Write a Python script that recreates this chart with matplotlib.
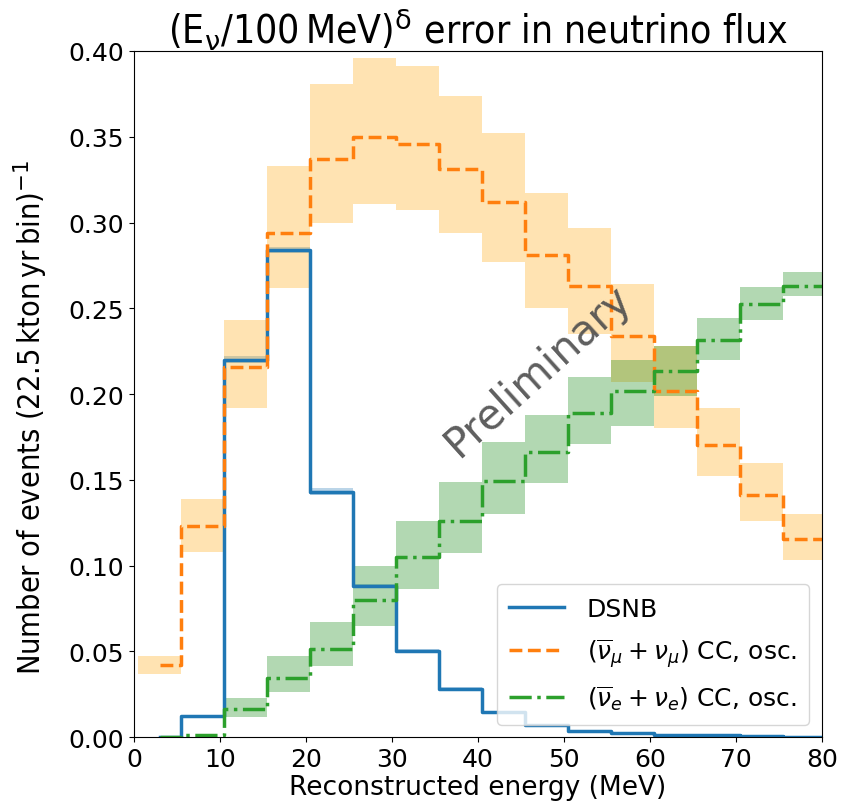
import numpy as np
import matplotlib
matplotlib.use("Agg")
import matplotlib.pyplot as plt

# bin layout: 5 MeV bins, first drawn point at 3 MeV
bin_edges = np.arange(0.5, 81, 5.0)        # 0.5 ... 80.5
line_start = 3.0

# DSNB signal
dsnb = [0.0, 0.0124, 0.220, 0.284, 0.143, 0.088, 0.0503, 0.028,
        0.0144, 0.0072, 0.0037, 0.0023, 0.0015, 0.0010, 0.0005, 0.0003]
dsnb_lo = [0.0, 0.0118, 0.218, 0.282, 0.141, 0.087, 0.0495, 0.027,
           0.0138, 0.0068, 0.0034, 0.0021, 0.0013, 0.0009, 0.0004, 0.0002]
dsnb_hi = [0.0, 0.0130, 0.222, 0.286, 0.145, 0.089, 0.0511, 0.029,
           0.0150, 0.0076, 0.0040, 0.0025, 0.0017, 0.0011, 0.0006, 0.0004]

# numu CC background
numu = [0.042, 0.123, 0.216, 0.294, 0.337, 0.350, 0.346, 0.331,
        0.312, 0.281, 0.263, 0.234, 0.202, 0.1705, 0.141, 0.1155]
numu_lo = [0.037, 0.108, 0.192, 0.262, 0.300, 0.311, 0.3075, 0.294,
           0.277, 0.250, 0.235, 0.207, 0.180, 0.152, 0.126, 0.103]
numu_hi = [0.047, 0.139, 0.243, 0.333, 0.381, 0.396, 0.391, 0.374,
           0.352, 0.317, 0.297, 0.264, 0.228, 0.192, 0.160, 0.130]

# nue CC background
nue = [0.0, 0.001, 0.0163, 0.0344, 0.0513, 0.080, 0.105, 0.126,
       0.1495, 0.166, 0.189, 0.202, 0.2136, 0.2315, 0.2525, 0.263]
nue_lo = [0.0, 0.0, 0.012, 0.0264, 0.0416, 0.065, 0.0863, 0.1073,
          0.130, 0.148, 0.171, 0.1816, 0.199, 0.2198, 0.243, 0.2573]
nue_hi = [0.0, 0.0, 0.0226, 0.0474, 0.0669, 0.0995, 0.126, 0.1485,
          0.172, 0.1878, 0.210, 0.2198, 0.228, 0.2443, 0.2622, 0.2713]

labels = ["DSNB",
          r"$(\overline{\nu}_\mu + \nu_\mu)$ CC, osc.",
          r"$(\overline{\nu}_e + \nu_e)$ CC, osc."]

fig = plt.figure(figsize=(8.43, 8.12), dpi=100)
ax = fig.add_axes([0.159, 0.091, 0.816, 0.845])

line_x = np.r_[line_start, bin_edges[1:]]

def band(lo, hi, color, alpha):
    ax.stairs(hi, bin_edges, baseline=lo, fill=True, color=color,
              alpha=alpha, lw=0)

def steps(vals, **kw):
    ax.step(line_x, np.r_[vals, vals[-1]], where="post", **kw)

band(dsnb_lo, dsnb_hi, "tab:blue", 0.3)
band(numu_lo, numu_hi, "orange", 0.3)
band(nue_lo, nue_hi, "green", 0.3)

steps(dsnb, color="tab:blue", lw=2.5, label=labels[0])
steps(numu, color="tab:orange", lw=2.5, ls="--", label=labels[1])
steps(nue, color="tab:green", lw=2.5, ls="-.", label=labels[2])

ax.set_xlim(0, 80)
ax.set_ylim(0, 0.40)
ax.set_xticks(np.arange(0, 81, 10))
ax.set_yticks(np.arange(0, 0.41, 0.05))
ax.tick_params(labelsize=18)

ax.set_xlabel("Reconstructed energy (MeV)", fontsize=19, labelpad=2)
ax.set_ylabel(r"Number of events (22.5$\,$kton$\,$yr$\,$bin)$^{-1}$",
              fontsize=22, stretch="condensed")
ax.yaxis.set_label_coords(-0.122, 0.468)
ax.set_title(r"(E$_\mathrm{\nu}$/100$\,$MeV)$^\mathrm{\delta}$ error in neutrino flux",
             fontsize=28, stretch="condensed", pad=6)

ax.text(47, 0.214, "Preliminary", fontsize=30, color="0.3", alpha=0.9,
        rotation=42, ha="center", va="center")

ax.legend(loc="lower right", fontsize=18, handlelength=2.2, labelspacing=0.6,
          handletextpad=0.9, borderpad=0.5)

fig.savefig("out.png", dpi=100)
